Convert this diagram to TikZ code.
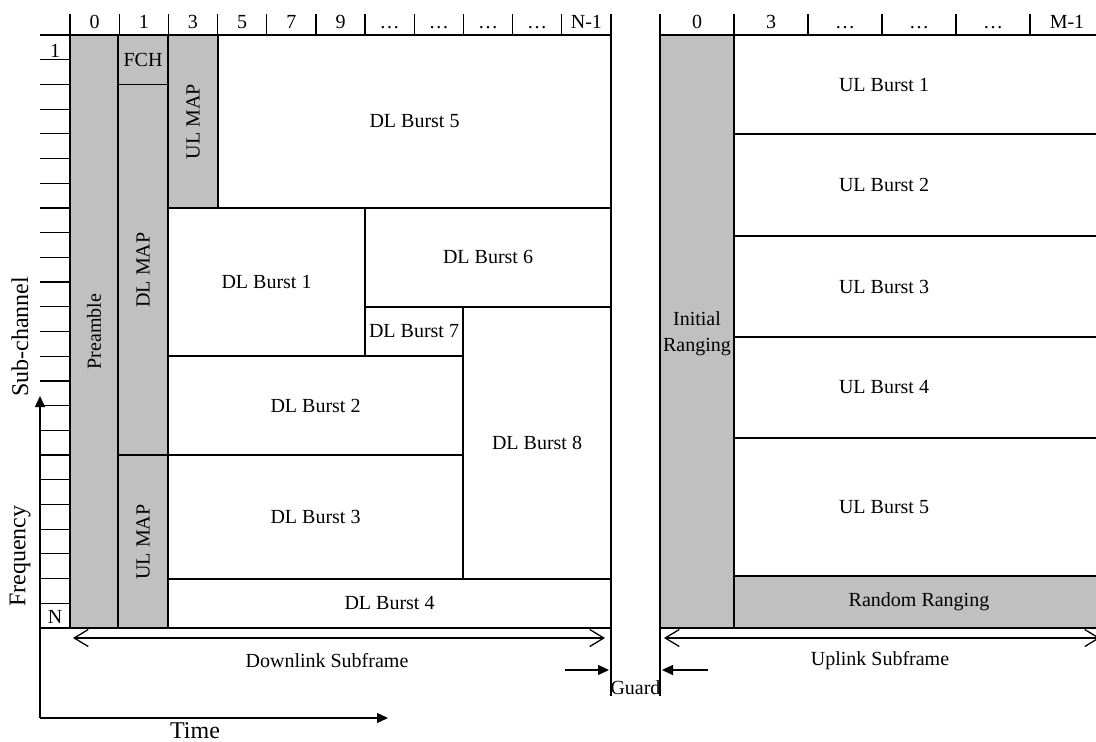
\documentclass[tikz,border=0pt]{standalone}
\usepackage{fontspec}
\setmainfont{Liberation Serif}
\usetikzlibrary{arrows.meta}
\definecolor{mapgray}{RGB}{192,192,192}

\begin{document}
\begin{tikzpicture}[x=1pt,y=-1pt,
    rule/.style={line width=1.2pt},
    wbox/.style={draw,line width=1.8pt,fill=white},
    gbox/.style={draw,line width=1.8pt,fill=mapgray},
    txt/.style={font=\fontsize{20}{26}\selectfont,inner sep=0pt},
    bigtxt/.style={font=\fontsize{24}{28}\selectfont,inner sep=0pt},
    spanarr/.style={line width=1.3pt,{Straight Barb[length=14pt,width=17pt]}-{Straight Barb[length=14pt,width=17pt]}},
    solidarr/.style={line width=1.3pt,-{Triangle[length=11pt,width=10pt]}}]

\useasboundingbox (0,0) rectangle (1096,742);
\clip (0,0) rectangle (1096,742);

% ===== Downlink subframe: blocks =====
\draw[gbox] (70,35) rectangle (118,628);
\draw[gbox] (118,35) rectangle (168,84.4);
\draw[gbox] (118,84.4) rectangle (168,455);
\draw[gbox] (118,455) rectangle (168,628);
\draw[gbox] (168,35) rectangle (218,208);
\draw[wbox] (218,35) rectangle (611,208);
\draw[wbox] (168,208) rectangle (365,356.2);
\draw[wbox] (365,208) rectangle (611,306.8);
\draw[wbox] (365,306.8) rectangle (463,356.2);
\draw[wbox] (463,306.8) rectangle (611,578.6);
\draw[wbox] (168,356.2) rectangle (463,455);
\draw[wbox] (168,455) rectangle (463,578.6);
\draw[wbox] (168,578.6) rectangle (611,628);

\node[txt,rotate=90] (pre) at (94,331.5) {Preamble};
\node[txt] (fch) at (143,60) {FCH};
\node[txt,rotate=90] (dlmap) at (143,270) {DL MAP};
\node[txt,rotate=90] (ulmapa) at (193,121.5) {UL MAP};
\node[txt,rotate=90] (ulmapb) at (143,542) {UL MAP};
\node[txt] (dl5) at (414.5,121.5) {DL Burst 5};
\node[txt] (dl1) at (266.5,282) {DL Burst 1};
\node[txt] (dl6) at (488,257.4) {DL Burst 6};
\node[txt] (dl7) at (414,331.5) {DL Burst 7};
\node[txt] (dl8) at (537,442.7) {DL Burst 8};
\node[txt] (dl2) at (315.5,405.6) {DL Burst 2};
\node[txt] (dl3) at (315.5,516.8) {DL Burst 3};
\node[txt] (dl4) at (389.5,603.3) {DL Burst 4};

% ===== Downlink subframe: axes and ticks =====
\draw[rule] (40,35) -- (611,35);
\draw[rule] (40,628) -- (611,628);
\foreach \k in {0,...,11} {
    \draw[rule] ({70+49.18*\k},14) -- ++(0,21);
}
\foreach \lab [count=\k from 0] in {0,1,3,5,7,9,…,…,…,…,N-1} {
    \node[txt,anchor=base] (col\k) at ({94.6+49.18*\k},28) {\lab};
}
\foreach \k in {1,...,23} {
    \draw[rule] (40,{35+24.708*\k}) -- (70,{35+24.708*\k});
}
\node[txt,anchor=base] (rowfirst) at (55,57) {1};
\node[txt,anchor=base] (rowlast) at (55,623) {N};

% ===== Uplink subframe =====
\draw[gbox] (660,35) rectangle (734,628);
\draw[wbox] (734,35) rectangle (1104,134);
\draw[wbox] (734,134) rectangle (1104,236);
\draw[wbox] (734,236) rectangle (1104,337);
\draw[wbox] (734,337) rectangle (1104,438);
\draw[wbox] (734,438) rectangle (1104,576);
\draw[gbox] (734,576) rectangle (1104,628);

\node[txt,align=center] (initrng) at (697,334) {Initial\\Ranging};
\node[txt] (ul1) at (884,84.5) {UL Burst 1};
\node[txt] (ul2) at (884,185) {UL Burst 2};
\node[txt] (ul3) at (884,286.5) {UL Burst 3};
\node[txt] (ul4) at (884,387.5) {UL Burst 4};
\node[txt] (ul5) at (884,507) {UL Burst 5};
\node[txt] (randrng) at (919,602) {Random Ranging};

\draw[rule] (660,35) -- (1104,35);
\draw[rule] (660,628) -- (1104,628);
\foreach \k in {0,...,6} {
    \draw[rule] ({660+74*\k},14) -- ++(0,21);
}
\foreach \lab [count=\k from 0] in {0,3,…,…,…,M-1} {
    \node[txt,anchor=base] (ucol\k) at ({697+74*\k},28) {\lab};
}

% ===== Subframe spans and guard =====
\coordinate (dlleft) at (73,638);
\coordinate (dlright) at (605,638);
\coordinate (ulleft) at (664,638);
\coordinate (ulright) at (1100,638);
\draw[spanarr] (dlleft) -- (dlright);
\draw[spanarr] (ulleft) -- (ulright);
\node[txt] (dlsub) at (327,661) {Downlink Subframe};
\node[txt] (ulsub) at (880,661) {Uplink Subframe};

\draw[rule] (611,628) -- (611,696);
\draw[rule] (660,628) -- (660,696);
\coordinate (gfromL) at (565,670);
\coordinate (gtoL) at (609,670);
\coordinate (gfromR) at (708,670);
\coordinate (gtoR) at (662,670);
\draw[solidarr] (gfromL) -- (gtoL);
\draw[solidarr] (gfromR) -- (gtoR);
\node[txt,anchor=base] (guard) at (635.5,694) {Guard};

% ===== Time / frequency axes =====
\coordinate (origin) at (40,718);
\coordinate (ftip) at (40,396);
\coordinate (ttip) at (388,718);
\draw[solidarr] (origin) -- (ftip);
\draw[solidarr] (origin) -- (ttip);
\node[bigtxt,rotate=90] (subch) at (20,337) {Sub-channel};
\node[bigtxt,rotate=90] (freq) at (20,556) {Frequency};
\node[bigtxt] (time) at (195,731) {Time};

\end{tikzpicture}
\end{document}
